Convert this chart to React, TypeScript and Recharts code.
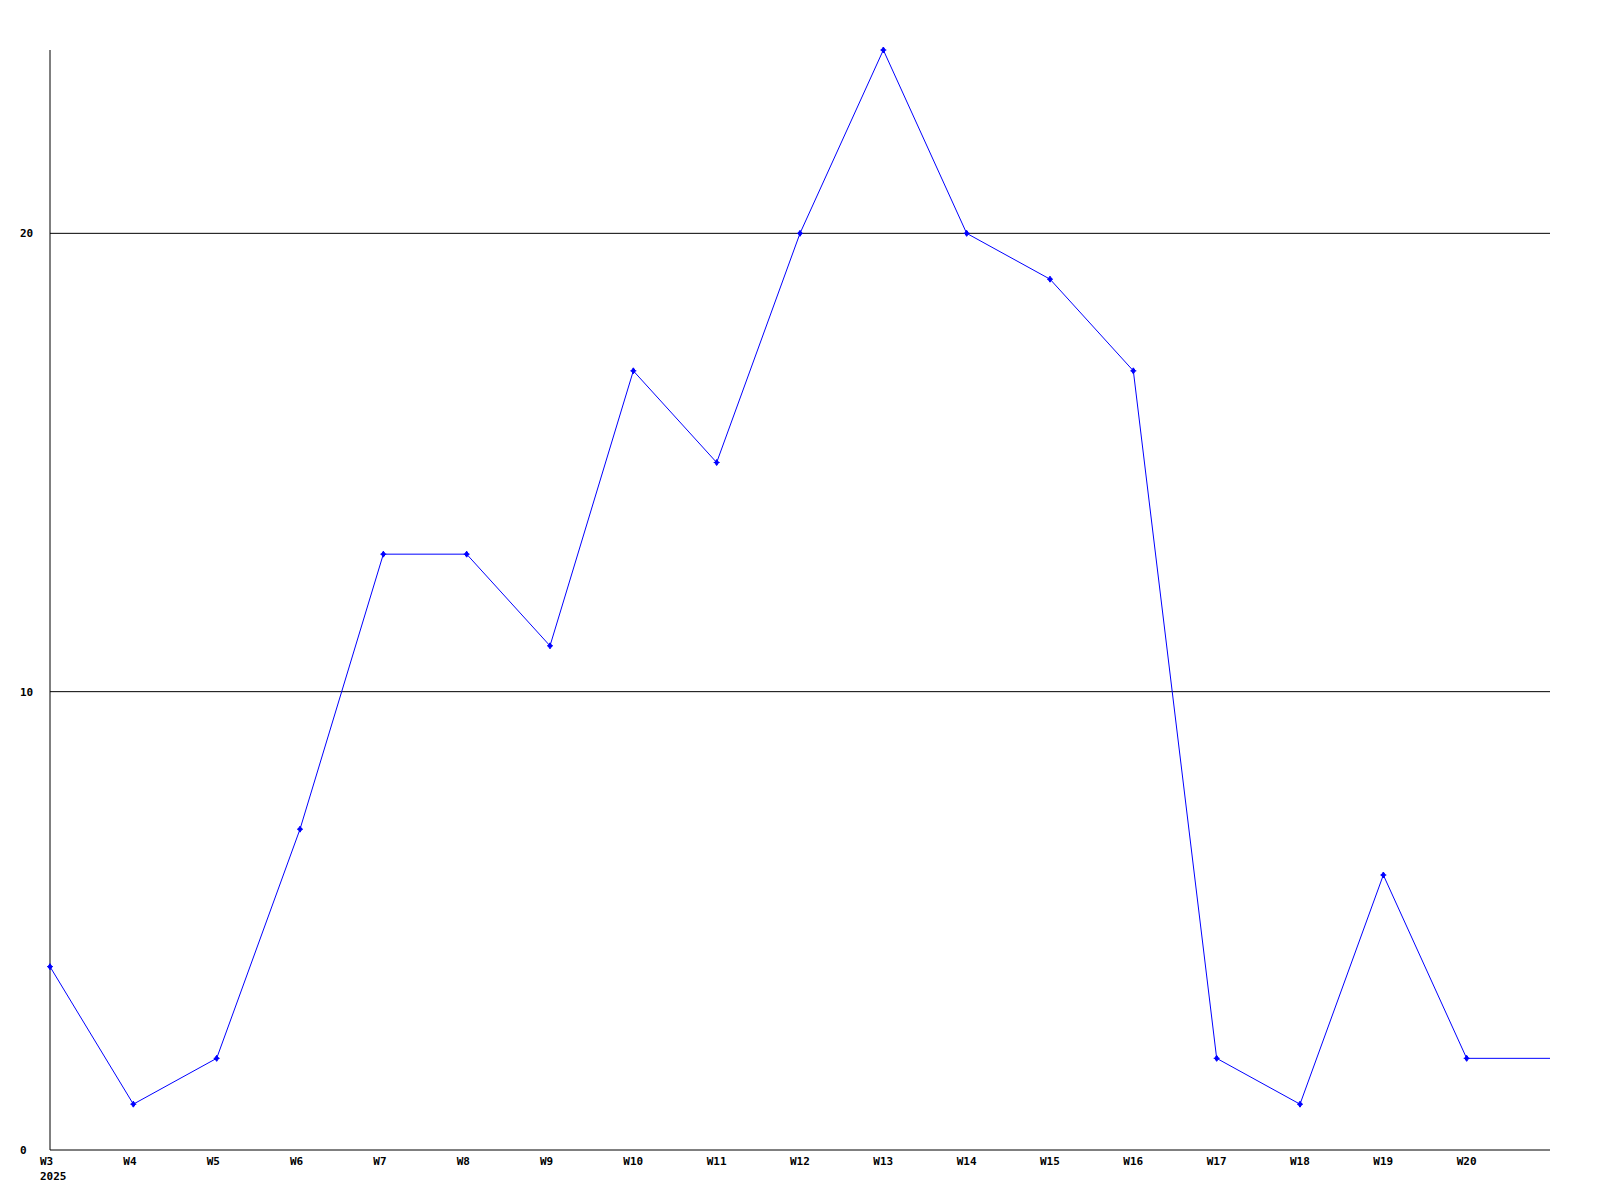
import { LineChart, Line, XAxis, YAxis, CartesianGrid } from "recharts";

const weeks = [
  "W3", "W4", "W5", "W6", "W7", "W8", "W9", "W10", "W11", "W12",
  "W13", "W14", "W15", "W16", "W17", "W18", "W19", "W20", "",
];
const counts = [4, 1, 2, 7, 13, 13, 11, 17, 15, 20, 24, 20, 19, 17, 2, 1, 6, 2, 2];
const yTicks = [0, 10, 20];
const gridValues = [10, 20];
const yearLabel = "2025";

const data = weeks.map((week, i) => ({ week, count: counts[i] }));

const font = "'DejaVu Sans Mono', 'Liberation Mono', monospace";

const XTick = (props: any) => {
  const { x, y, payload, index } = props;
  return (
    <g>
      <text x={x - 10} y={y + 7} textAnchor="start" fontFamily={font} fontSize={11} fontWeight="bold" fill="#000">
        {payload.value}
      </text>
      {index === 0 && (
        <text x={x - 10} y={y + 22} textAnchor="start" fontFamily={font} fontSize={11} fontWeight="bold" fill="#000">
          {yearLabel}
        </text>
      )}
    </g>
  );
};

const YTick = (props: any) => {
  const { y, payload } = props;
  return (
    <text x={20} y={y + 4} textAnchor="start" fontFamily={font} fontSize={11} fontWeight="bold" fill="#000">
      {payload.value}
    </text>
  );
};

const Marker = (props: any) => {
  const { cx, cy, index } = props;
  if (index === counts.length - 1 || cx == null) return <g key={index} />;
  return (
    <path
      key={index}
      d={`M${cx},${cy - 3} L${cx + 2},${cy} L${cx},${cy + 3} L${cx - 2},${cy} Z M${cx - 3},${cy} L${cx + 3},${cy}`}
      fill="#0000ff"
      stroke="#0000ff"
      strokeWidth={1}
    />
  );
};

export default function App() {
  return (
    <div style={{ position: "absolute", left: 0, top: 0, background: "#fff" }}>
      <LineChart width={1600} height={1200} data={data} margin={{ top: 50, right: 50, left: 20, bottom: 0 }}>
        <CartesianGrid vertical={false} stroke="#000" strokeDasharray="" horizontalValues={gridValues} />
        <XAxis
          dataKey="week"
          height={50}
          axisLine={{ stroke: "#000" }}
          tickLine={false}
          tick={<XTick />}
          interval={0}
          padding={{ left: 0, right: 0 }}
        />
        <YAxis
          width={30}
          domain={[0, 24]}
          ticks={yTicks}
          axisLine={{ stroke: "#000" }}
          tickLine={false}
          tick={<YTick />}
        />
        <Line
          type="linear"
          dataKey="count"
          stroke="#0000ff"
          strokeWidth={1}
          dot={<Marker />}
          activeDot={false}
          isAnimationActive={false}
        />
      </LineChart>
    </div>
  );
}
